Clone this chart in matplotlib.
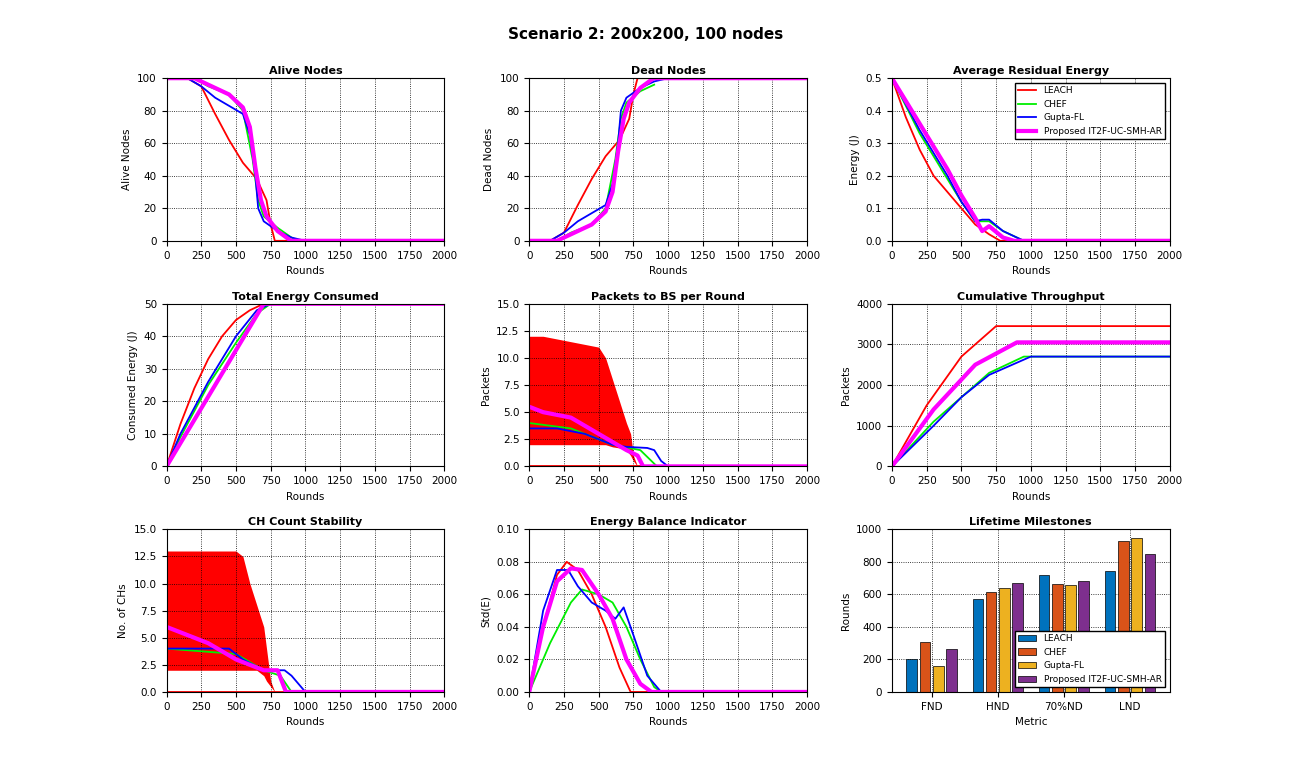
import matplotlib
matplotlib.use('Agg')
import matplotlib.pyplot as plt

names = ['LEACH', 'CHEF', 'Gupta-FL', 'Proposed IT2F-UC-SMH-AR']
colors = ['#ff0000', '#00ee00', '#0000ff', '#ff00ff']
widths = [1.3, 1.3, 1.3, 3]

# alive nodes
alive_x = [[0, 150, 250, 350, 450, 550, 650, 720, 750, 780, 2000],
           [0, 200, 300, 450, 550, 620, 660, 700, 800, 900, 950, 2000],
           [0, 150, 250, 350, 450, 550, 600, 640, 660, 700, 800, 900, 1000, 2000],
           [0, 200, 300, 450, 550, 600, 640, 680, 720, 800, 880, 900, 2000]]
alive_y = [[100, 100, 95, 78, 62, 48, 38, 25, 10, 0, 0],
           [100, 100, 95, 90, 80, 50, 25, 15, 8, 2, 0, 0],
           [100, 100, 95, 88, 83, 78, 65, 40, 20, 12, 6, 2, 0, 0],
           [100, 100, 96, 90, 82, 70, 45, 25, 15, 6, 1, 0, 0]]
# dead nodes
dead_x = [[150, 250, 350, 450, 550, 650, 720, 750, 780, 2000],
          [200, 300, 450, 550, 620, 660, 700, 800, 900],
          [150, 250, 350, 450, 550, 600, 640, 660, 700, 800, 900, 1000, 2000],
          [0, 200, 300, 450, 550, 600, 640, 680, 720, 800, 880, 900, 2000]]
dead_y = [[0, 5, 22, 38, 52, 62, 75, 90, 100, 100],
          [0, 5, 10, 20, 50, 75, 85, 92, 96],
          [0, 5, 12, 17, 22, 35, 60, 80, 88, 94, 98, 100, 100],
          [0, 0, 4, 10, 18, 30, 55, 75, 85, 94, 99, 100, 100]]
# average residual energy
res_x = [[0, 100, 200, 300, 400, 500, 600, 700, 780, 2000],
         [0, 200, 400, 500, 600, 650, 700, 800, 900, 950, 2000],
         [0, 200, 400, 500, 600, 650, 700, 800, 950, 2000],
         [0, 200, 400, 500, 600, 650, 700, 800, 880, 2000]]
res_y = [[0.5, 0.38, 0.28, 0.2, 0.15, 0.1, 0.05, 0.02, 0, 0],
         [0.5, 0.33, 0.19, 0.12, 0.06, 0.06, 0.06, 0.03, 0.01, 0, 0],
         [0.5, 0.34, 0.2, 0.12, 0.06, 0.065, 0.065, 0.03, 0, 0],
         [0.5, 0.36, 0.22, 0.14, 0.07, 0.03, 0.045, 0.01, 0, 0]]
# total energy consumed
tot_x = [[0, 100, 200, 300, 400, 500, 600, 700, 2000],
         [0, 100, 300, 500, 650, 750, 2000],
         [0, 100, 300, 500, 650, 750, 2000],
         [0, 700, 2000]]
tot_y = [[0, 13, 24, 33, 40, 45, 48, 50, 50],
         [0, 9, 25, 38, 47, 50, 50],
         [0, 10, 26, 40, 48, 50, 50],
         [0, 50, 50]]
# packets per round (LEACH drawn as a band)
pk_band_x = [0, 100, 300, 500, 550, 600, 650, 700, 730, 750, 780]
pk_band_hi = [12, 12, 11.5, 11, 10, 8, 6, 4, 3, 1, 0]
pk_band_lo = [2, 2, 2, 2, 2, 1.8, 1.7, 1.5, 1, 0.5, 0]
pk_x = [[0, 780, 2000],
        [0, 300, 600, 800, 880, 920, 2000],
        [0, 200, 400, 600, 700, 850, 900, 950, 1000, 2000],
        [0, 100, 300, 500, 700, 780, 820, 2000]]
pk_y = [[0, 0, 0],
        [4, 3.5, 2, 1.5, 0.5, 0, 0],
        [3.5, 3.5, 3, 2, 1.8, 1.7, 1.5, 0.5, 0, 0],
        [5.5, 5, 4.5, 3, 1.5, 1, 0, 0]]
# cumulative throughput
thr_x = [[0, 250, 500, 750, 2000],
         [0, 300, 500, 700, 950, 2000],
         [0, 300, 500, 700, 1000, 2000],
         [0, 300, 600, 900, 2000]]
thr_y = [[0, 1500, 2700, 3450, 3450],
         [0, 1100, 1700, 2300, 2700, 2700],
         [0, 1000, 1700, 2250, 2700, 2700],
         [0, 1400, 2500, 3050, 3050]]
# CH count (LEACH drawn as a band)
ch_band_x = [0, 100, 300, 500, 550, 600, 650, 700, 720, 750, 780]
ch_band_hi = [13, 13, 13, 13, 12.5, 10, 8, 6, 4, 1, 0]
ch_band_lo = [2, 2, 2, 2, 2, 2, 2, 1.5, 1, 0.5, 0]
ch_x = [[0, 780, 2000],
        [0, 500, 700, 820, 900, 2000],
        [0, 450, 550, 700, 850, 900, 1000, 2000],
        [0, 100, 300, 500, 600, 700, 800, 860, 2000]]
ch_y = [[0, 0, 0],
        [4, 3.5, 2, 1.5, 0, 0],
        [4, 4, 3, 2, 2, 1.5, 0, 0],
        [6, 5.5, 4.5, 3, 2.5, 2, 2, 0, 0]]
# energy balance indicator
std_x = [[0, 100, 200, 270, 350, 450, 550, 650, 730, 2000],
         [0, 150, 300, 380, 500, 600, 700, 800, 900, 950, 2000],
         [0, 100, 200, 280, 350, 450, 550, 620, 680, 750, 850, 950, 2000],
         [0, 100, 200, 300, 380, 500, 600, 700, 800, 880, 2000]]
std_y = [[0, 0.04, 0.072, 0.08, 0.075, 0.06, 0.04, 0.015, 0, 0],
         [0, 0.03, 0.055, 0.063, 0.06, 0.055, 0.04, 0.02, 0.003, 0, 0],
         [0, 0.05, 0.075, 0.075, 0.065, 0.055, 0.05, 0.045, 0.052, 0.035, 0.01, 0, 0],
         [0, 0.04, 0.068, 0.076, 0.075, 0.06, 0.045, 0.02, 0.005, 0, 0]]
# lifetime milestones
metrics = ['FND', 'HND', '70%ND', 'LND']
milestones = [[200, 570, 720, 745],
              [305, 615, 665, 930],
              [160, 640, 655, 945],
              [265, 670, 680, 850]]
bar_colors = ['#0072BD', '#D95319', '#EDB120', '#7E2F8E']


def main():
    plt.rcParams['font.size'] = 7.5
    fig = plt.figure(figsize=(12.91, 7.74), dpi=100)
    plt.subplots_adjust(left=0.129, right=0.906, top=0.899, bottom=0.106, wspace=0.306, hspace=0.387)
    fig.suptitle('Scenario 2: 200x200, 100 nodes', fontsize=11, fontweight='bold', y=0.965)

    panels = [('Alive Nodes', 'Alive Nodes', alive_x, alive_y, (0, 100)),
              ('Dead Nodes', 'Dead Nodes', dead_x, dead_y, (0, 100)),
              ('Average Residual Energy', 'Energy (J)', res_x, res_y, (0, 0.5)),
              ('Total Energy Consumed', 'Consumed Energy (J)', tot_x, tot_y, (0, 50)),
              ('Packets to BS per Round', 'Packets', pk_x, pk_y, (0, 15)),
              ('Cumulative Throughput', 'Packets', thr_x, thr_y, (0, 4000)),
              ('CH Count Stability', 'No. of CHs', ch_x, ch_y, (0, 15)),
              ('Energy Balance Indicator', 'Std(E)', std_x, std_y, (0, 0.1))]

    for i, (title, ylab, xs, ys, ylim) in enumerate(panels):
        ax = plt.subplot(3, 3, i + 1)
        if i == 4:
            ax.fill_between(pk_band_x, pk_band_lo, pk_band_hi, color='red', lw=0)
        if i == 6:
            ax.fill_between(ch_band_x, ch_band_lo, ch_band_hi, color='red', lw=0)
        for k in range(4):
            ax.plot(xs[k], ys[k], color=colors[k], lw=widths[k], label=names[k])
        plt.title(title, fontsize=8, fontweight='bold', pad=3)
        plt.xlabel('Rounds')
        plt.ylabel(ylab)
        plt.xlim(0, 2000)
        plt.ylim(*ylim)
        plt.grid(True, color='k', linestyle=':', lw=0.6)
        if i == 2:
            plt.legend(loc='upper right', fontsize=6.5, fancybox=False, edgecolor='k', framealpha=1)

    ax = plt.subplot(3, 3, 9)
    w = 0.2
    for k in range(4):
        pos = [j + (k - 1.5) * w for j in range(4)]
        ax.bar(pos, milestones[k], w * 0.8, color=bar_colors[k], edgecolor='k', lw=0.5, label=names[k])
    plt.xticks(range(4), metrics)
    plt.xlim(-0.6, 3.6)
    plt.ylim(0, 1000)
    plt.title('Lifetime Milestones', fontsize=8, fontweight='bold', pad=3)
    plt.xlabel('Metric')
    plt.ylabel('Rounds')
    plt.grid(True, color='k', linestyle=':', lw=0.6)
    ax.set_axisbelow(True)
    plt.legend(loc='lower right', fontsize=6.5, fancybox=False, edgecolor='k', framealpha=1)

    fig.savefig('out.png', dpi=100)
    plt.close(fig)


if __name__ == '__main__':
    main()
